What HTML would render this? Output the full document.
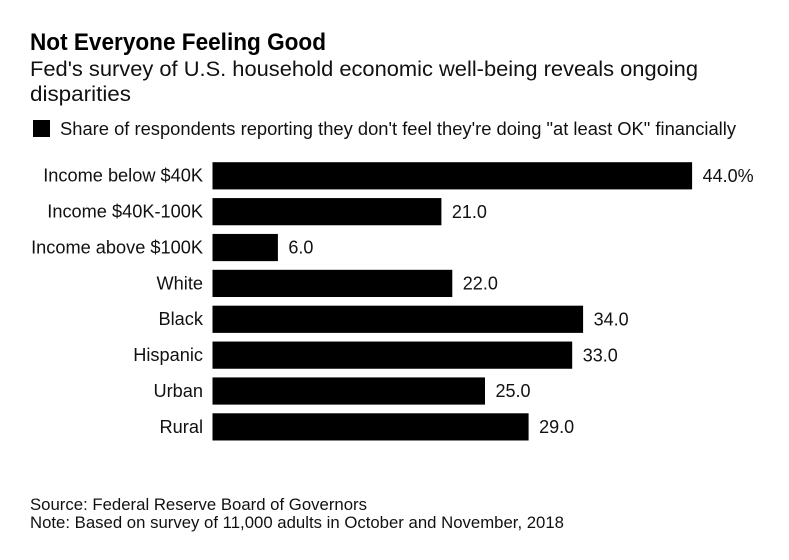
<!DOCTYPE html>
<html lang="en">
<head>
<meta charset="utf-8">
<title>Not Everyone Feeling Good</title>
<style>
html,body{margin:0;padding:0;background:#fff;}
svg{display:block;font-family:"Liberation Sans",sans-serif;fill:#111;}
</style>
</head>
<body>
<svg id="chart" width="789" height="560" viewBox="0 0 789 560" xmlns="http://www.w3.org/2000/svg">
  <rect x="0" y="0" width="789" height="560" fill="#fff"/>
  <text x="30" y="50" font-size="24" font-weight="bold" fill="#000" textLength="296" lengthAdjust="spacingAndGlyphs">Not Everyone Feeling Good</text>
  <text x="30" y="76" font-size="21.5" textLength="668" lengthAdjust="spacingAndGlyphs">Fed's survey of U.S. household economic well-being reveals ongoing</text>
  <text x="30" y="101" font-size="21.5" textLength="101" lengthAdjust="spacingAndGlyphs">disparities</text>
  <rect x="33" y="120" width="17" height="17" fill="#000"/>
  <text x="60" y="135" font-size="18" textLength="676" lengthAdjust="spacingAndGlyphs">Share of respondents reporting they don't feel they're doing "at least OK" financially</text>
  <g id="bars"></g>
  <text x="30" y="510" font-size="16.5" textLength="337" lengthAdjust="spacingAndGlyphs">Source: Federal Reserve Board of Governors</text>
  <text x="30" y="528" font-size="16.5" textLength="534" lengthAdjust="spacingAndGlyphs">Note: Based on survey of 11,000 adults in October and November, 2018</text>
</svg>
<script>
const categories = ["Income below $40K", "Income $40K-100K", "Income above $100K", "White", "Black", "Hispanic", "Urban", "Rural"];
const values = [44, 21, 6, 22, 34, 33, 25, 29];
const valueSuffixes = ["%", "", "", "", "", "", "", ""];

const NS = 'http://www.w3.org/2000/svg';
const group = document.getElementById('bars');
const xAxis = v => 212.5 + v * 10.9;
const yAxis = i => 162.2 + i * 35.87;
const barHeight = 27.2;

categories.forEach((category, i) => {
  const y = yAxis(i);

  const label = document.createElementNS(NS, 'text');
  
  
  label.setAttribute('x', 203);
  label.setAttribute('y', y + 19.5);
  label.setAttribute('text-anchor', 'end');
  label.setAttribute('font-size', '18.2');
  label.textContent = category;
  group.appendChild(label);

  const bar = document.createElementNS(NS, 'rect');
  
  
  bar.setAttribute('x', xAxis(0));
  bar.setAttribute('y', y);
  bar.setAttribute('width', xAxis(values[i]) - xAxis(0));
  bar.setAttribute('height', barHeight);
  bar.setAttribute('fill', '#000');
  group.appendChild(bar);

  const valueLabel = document.createElementNS(NS, 'text');
  
  
  valueLabel.setAttribute('x', xAxis(values[i]) + 10.5);
  valueLabel.setAttribute('y', y + 19.8);
  valueLabel.setAttribute('font-size', '18');
  valueLabel.textContent = values[i].toFixed(1) + valueSuffixes[i];
  group.appendChild(valueLabel);
});
</script>
</body>
</html>
